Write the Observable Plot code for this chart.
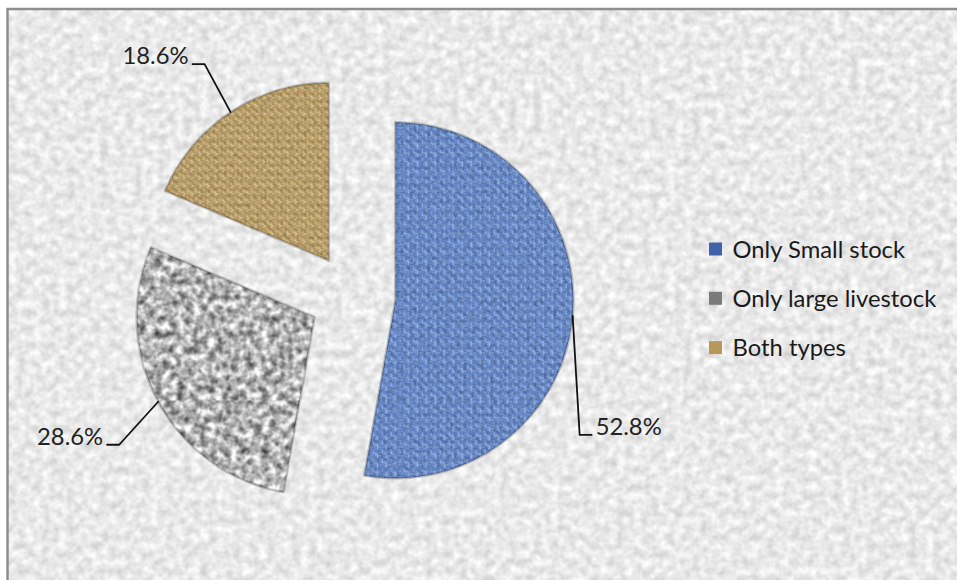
<!DOCTYPE html>
<html><head><meta charset="utf-8">
<script src="https://cdn.jsdelivr.net/npm/d3@7"></script>
<script src="https://cdn.jsdelivr.net/npm/@observablehq/plot@0.6"></script>
<style>
  html,body{margin:0;padding:0;background:#fff}
  #chart svg{display:block}
</style>
</head><body><div id="chart"></div>
<script>
// ---- data ----
const categories = ["Only Small stock", "Only large livestock", "Both types"];
const shares = [52.8, 28.6, 18.6];
const valueLabels = ["52.8%", "28.6%", "18.6%"];

// ---- layout (pixels) ----
const W = 957, H = 580;
const CX = 352, CY = 296, R = 178, EXPLODE = 43;
const labelElbow = [[7, 119], [-39, 43], [-26, -48]]; // offset of leader elbow from arc point
const TAIL = 12, GAP = 4;
const LEG_X = 709, LEG_TEXT_X = 732, LEG_Y0 = 257, LEG_DY = 49.3, LEG_BOX = 13;
const FONT = "Lato, 'Open Sans', sans-serif";
const FS = 23.8;

const fills = ["url(#blueWeave)", "url(#greyGranite)", "url(#tanWeave)"];
const swatch = ["#3f62a8", "#7a7a7a", "#b8975a"];

const pie = d3.pie().sort(null)(shares); // clockwise from 12 o'clock
const pt = (cx, cy, a, r) => [cx + r * Math.sin(a), cy - r * Math.cos(a)];

const slices = [], leaders = [], texts = [];
pie.forEach((p, i) => {
  const cat = categories[i];
  const mid = (p.startAngle + p.endAngle) / 2;
  const [ax, ay] = pt(CX, CY, mid, EXPLODE);
  const poly = [[ax, ay]];
  const n = Math.ceil((p.endAngle - p.startAngle) / 0.005);
  for (let k = 0; k <= n; k++) {
    const a = p.startAngle + (p.endAngle - p.startAngle) * k / n;
    poly.push(pt(ax, ay, a, R));
  }
  poly.push([ax, ay]);
  slices.push(poly.map(([x, y]) => ({cat, x, y})));
  const [lx, ly] = pt(ax, ay, mid, R);
  const ex = lx + labelElbow[i][0], ey = ly + labelElbow[i][1];
  const dir = Math.sin(mid) >= 0 ? 1 : -1;
  leaders.push({cat, x: lx, y: ly}, {cat, x: ex, y: ey}, {cat, x: ex + dir * TAIL, y: ey});
  texts.push({label: valueLabels[i], x: ex + dir * (TAIL + GAP), y: ey, anchor: dir > 0 ? "start" : "end"});
});

const legend = categories.map((c, i) => ({c, color: swatch[i], y: LEG_Y0 + i * LEG_DY}));

const marks = [
  Plot.frame({fill: "url(#bgTex)", stroke: "#8e8e8e", strokeWidth: 2.5,
              insetLeft: 7, insetTop: 8.5, insetRight: -10, insetBottom: -10}),
  ...slices.map((s, i) => Plot.line(s, {x: "x", y: "y", fill: fills[i], stroke: "none", curve: "linear"})),
  ...slices.map((s, i) => Plot.line(s, {x: "x", y: "y", stroke: "#000", strokeOpacity: 0.2, strokeWidth: 2.5, curve: "linear"})),
  Plot.line(leaders, {x: "x", y: "y", z: "cat", stroke: "#111", strokeWidth: 1.8, curve: "linear"}),
  Plot.text(texts.filter(d => d.anchor === "start"), {x: "x", y: "y", text: "label", textAnchor: "start", lineAnchor: "bottom", fontSize: FS, fill: "#222", fontFamily: FONT}),
  Plot.text(texts.filter(d => d.anchor === "end"), {x: "x", y: "y", text: "label", textAnchor: "end", lineAnchor: "bottom", fontSize: FS, fill: "#222", fontFamily: FONT}),
  Plot.rect(legend, {x1: LEG_X, x2: LEG_X + LEG_BOX, y1: d => d.y - 8 - LEG_BOX / 2, y2: d => d.y - 8 + LEG_BOX / 2, fill: "color"}),
  Plot.text(legend, {x: LEG_TEXT_X, y: "y", text: "c", textAnchor: "start", lineAnchor: "bottom", fontSize: FS, fill: "#1a1a1a", fontFamily: FONT})
];

const chart = Plot.plot({
  width: W, height: H, margin: 0,
  x: {domain: [0, W], range: [0, W], axis: null},
  y: {domain: [0, H], range: [0, H], axis: null},
  color: {type: "identity"},
  style: {background: "#fff", overflow: "hidden"},
  marks
});

const defs = `
<defs>
  <filter id="fBg" x="0" y="0" width="100%" height="100%" color-interpolation-filters="sRGB">
    <feTurbulence type="fractalNoise" baseFrequency="0.12" numOctaves="3" seed="11"/>
    <feColorMatrix type="matrix" values="1 0 0 0 0  1 0 0 0 0  1 0 0 0 0  0 0 0 0 1"/>
    <feComponentTransfer>
      <feFuncR type="linear" slope="0.27" intercept="0.78"/>
      <feFuncG type="linear" slope="0.27" intercept="0.78"/>
      <feFuncB type="linear" slope="0.27" intercept="0.78"/>
    </feComponentTransfer>
  </filter>
  <filter id="fGrey" x="0" y="0" width="100%" height="100%" color-interpolation-filters="sRGB">
    <feTurbulence type="fractalNoise" baseFrequency="0.13" numOctaves="3" seed="5"/>
    <feColorMatrix type="matrix" values="1 0 0 0 0  1 0 0 0 0  1 0 0 0 0  0 0 0 0 1"/>
    <feComponentTransfer>
      <feFuncR type="linear" slope="1.2" intercept="0.1"/>
      <feFuncG type="linear" slope="1.2" intercept="0.1"/>
      <feFuncB type="linear" slope="1.2" intercept="0.1"/>
    </feComponentTransfer>
  </filter>
  <filter id="fSpeck" x="0" y="0" width="100%" height="100%" color-interpolation-filters="sRGB">
    <feTurbulence type="fractalNoise" baseFrequency="0.3" numOctaves="2" seed="3"/>
    <feColorMatrix type="matrix" values="0 0 0 0 0  0 0 0 0 0  0 0 0 0 0  -1.8 0 0 0 1.05"/>
  </filter>
  <pattern id="bgTex" patternUnits="userSpaceOnUse" width="957" height="580">
    <rect width="957" height="580" fill="#eee" filter="url(#fBg)"/>
  </pattern>
  <pattern id="greyGranite" patternUnits="userSpaceOnUse" width="400" height="400">
    <rect width="400" height="400" fill="#aaa" filter="url(#fGrey)"/>
  </pattern>
  <pattern id="blueWeaveTile" patternUnits="userSpaceOnUse" width="9" height="9">
    <rect width="9" height="9" fill="#3658a0"/>
    <rect x="0" y="0.6" width="4.5" height="1.6" fill="#93b5ee"/>
    <rect x="0" y="2.9" width="4.5" height="1.6" fill="#789cdd"/>
    <rect x="4.9" y="0" width="1.6" height="4.5" fill="#86a8e6"/>
    <rect x="7.1" y="0" width="1.6" height="4.5" fill="#adc9f4"/>
    <rect x="0.6" y="4.5" width="1.6" height="4.5" fill="#83a6e4"/>
    <rect x="2.9" y="4.5" width="1.6" height="4.5" fill="#a4c2f2"/>
    <rect x="4.5" y="5.1" width="4.5" height="1.6" fill="#789cdd"/>
    <rect x="4.5" y="7.3" width="4.5" height="1.6" fill="#9cbcf0"/>
  </pattern>
  <pattern id="blueWeave" patternUnits="userSpaceOnUse" width="400" height="400">
    <rect width="400" height="400" fill="url(#blueWeaveTile)"/>
    <rect width="400" height="400" fill="#0a1d4a" filter="url(#fSpeck)" opacity="0.4"/>
  </pattern>
  <pattern id="tanWeaveTile" patternUnits="userSpaceOnUse" width="8" height="8">
    <rect width="8" height="8" fill="#72552b"/>
    <rect x="0" y="0.5" width="4" height="1.4" fill="#f0d9a2"/>
    <rect x="0" y="2.5" width="4" height="1.4" fill="#d6b677"/>
    <rect x="4.5" y="0" width="1.4" height="4" fill="#dec286"/>
    <rect x="6.5" y="0" width="1.4" height="4" fill="#f5dfaa"/>
    <rect x="0.5" y="4" width="1.4" height="4" fill="#dabd80"/>
    <rect x="2.5" y="4" width="1.4" height="4" fill="#efd69e"/>
    <rect x="4" y="4.5" width="4" height="1.4" fill="#d3b374"/>
    <rect x="4" y="6.5" width="4" height="1.4" fill="#f0d9a2"/>
  </pattern>
  <pattern id="tanWeave" patternUnits="userSpaceOnUse" width="400" height="400">
    <rect width="400" height="400" fill="url(#tanWeaveTile)"/>
    <rect width="400" height="400" fill="#3a2810" filter="url(#fSpeck)" opacity="0.3"/>
  </pattern>
</defs>`;
chart.insertAdjacentHTML("afterbegin", defs);
document.getElementById("chart").append(chart);
</script>
</body></html>
